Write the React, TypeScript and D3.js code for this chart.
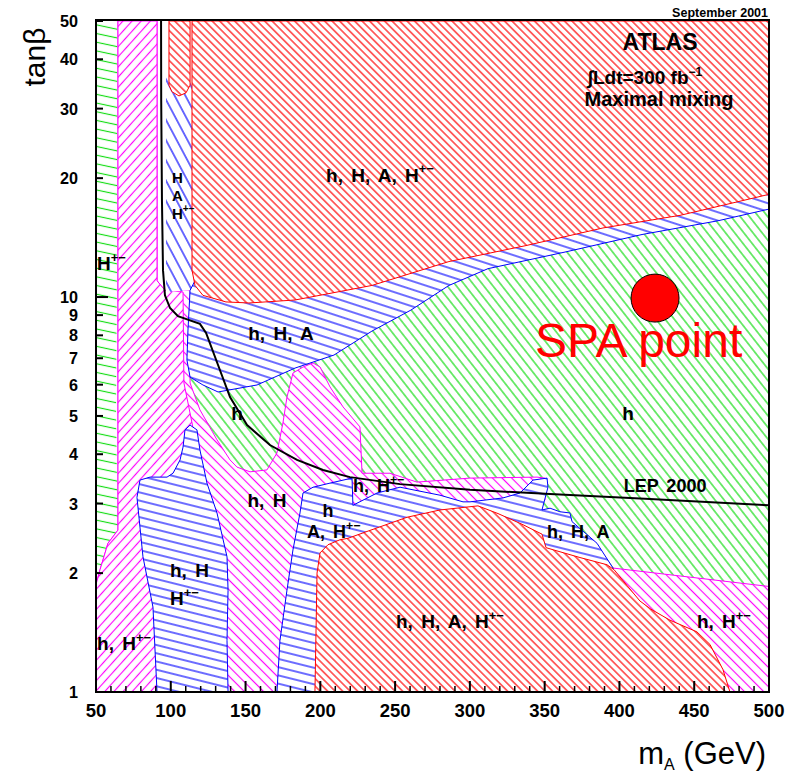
import React from 'react';
import * as d3 from 'd3';

// ---------- data (mA in GeV, tan beta) ----------
const X_TICK_LABELS = [50, 100, 150, 200, 250, 300, 350, 400, 450, 500];
const Y_TICK_LABELS = [1, 2, 3, 4, 5, 6, 7, 8, 9, 10, 20, 30, 40, 50];

// green left band (H+- only region at low mA)
const greenBand: [number, number][] = [
  [50, 50], [64.3, 50], [64, 11.7], [63.4, 5.2], [64, 3.44], [64.7, 3.06], [64.7, 2.57],
  [58, 2.38], [52.7, 2.04], [50.7, 1.87], [50, 1.87],
];
// green main region (h only)
const greenMain: [number, number][] = [
  [112.9, 11], [500, 20], [500, 1], [112.9, 1],
];
// magenta (h + H / h + H+-) central region
const magentaMain: [number, number][] = [
  [64.7, 50], [90.8, 50], [90.8, 11.0], [96.1, 10.4], [112.9, 10.4], [112.9, 6.06],
  [119.5, 5.18], [130.9, 4.35], [139.6, 3.87], [144.3, 3.71], [153.0, 3.61], [164.3, 3.65],
  [171.0, 4.03], [175.0, 4.80], [177.7, 5.58], [181.7, 6.42], [188.4, 6.65], [195.1, 6.81],
  [199.8, 6.65], [206.5, 5.92], [215.2, 5.27], [226.5, 4.69], [227.9, 3.58], [246.6, 3.58],
  [264.6, 3.40], [300.1, 3.48], [344.9, 3.50], [350.2, 3.48], [350.2, 3.06], [300.1, 2.73],
  [199.8, 2.16], [196.4, 1], [50, 1], [50, 1.87], [52.7, 2.04], [58.0, 2.38], [64.7, 2.57],
];
// magenta left band
const magentaLeft: [number, number][] = [
  [64.7, 50], [90.8, 50], [90.8, 11.0], [96.1, 10.4], [108.2, 10.3], [108.8, 6.06],
  [114.9, 4.66], [114.9, 1], [50, 1], [50, 1.87], [52.7, 2.04], [58.0, 2.38], [64.7, 2.57],
];
// magenta right region (h, H+-)
const magentaRight: [number, number][] = [
  [395.7, 2.06], [500, 1.85], [500, 1], [395.7, 1],
];
// blue narrow band (H, A, H+-)
const blueNarrow: [number, number][] = [
  [96.8, 36.5], [114.2, 36.5], [114.2, 10.4], [96.8, 10.3],
];
// blue band (h, H, A)
const blueBand: [number, number][] = [
  [112.9, 10.4], [116.2, 11.0], [186.4, 17.6], [500, 23.6], [500, 16.7], [465.9, 15.6],
  [415.1, 14.4], [363.6, 13.0], [312.1, 11.8], [286.0, 10.7], [260.6, 9.27], [234.5, 8.2],
  [209.1, 7.13], [183.1, 6.61], [157.7, 5.99], [131.6, 5.75], [121.5, 5.99], [112.9, 6.27],
  [110.8, 6.93], [111.5, 8.25],
];
// blue lower-left (h, H, H+-)
const blueLow: [number, number][] = [
  [90.8, 1], [88.1, 1.64], [81.4, 2.20], [77.4, 3.11], [79.4, 3.44], [86.1, 3.50], [97.5, 3.50],
  [101.5, 3.58], [106.2, 3.87], [108.2, 4.17], [109.5, 4.61], [112.9, 4.74], [117.5, 4.61],
  [119.5, 4.10], [124.2, 3.38], [130.9, 2.84], [137.6, 2.20], [138.3, 1.81], [137.6, 1.35],
  [138.3, 1],
];
// blue middle (h, A, H+- / h, H, A)
const blueMid: [number, number][] = [
  [171.0, 1], [173.0, 1.35], [177.7, 1.81], [181.7, 2.29], [186.4, 2.84], [188.4, 3.19],
  [195.1, 3.30], [206.5, 3.38], [221.2, 3.48], [221.8, 2.97], [237.9, 3.19], [253.3, 3.30],
  [280.0, 3.15], [295.4, 3.03], [300.1, 3.03], [322.1, 3.10], [333.5, 3.19], [342.2, 3.44],
  [351.6, 3.48], [352.2, 3.30], [348.2, 2.89], [353.6, 2.92], [360.2, 2.86], [366.9, 2.84],
  [368.3, 2.70], [385.0, 2.38], [395.7, 2.06], [395.7, 1.92], [320.1, 1],
];
// red top (h, H, A, H+-)
const redTop: [number, number][] = [
  [114.2, 50], [500, 50], [500, 18.2], [492.0, 17.9], [440.5, 16.1], [389.0, 14.96],
  [337.5, 13.5], [286.0, 12.3], [234.5, 10.7], [183.1, 9.83], [152.3, 9.66], [136.9, 9.72],
  [121.5, 10.1], [116.2, 10.7], [114.2, 11.7],
];
const redFinger: [number, number][] = [
  [98.8, 50], [112.9, 50], [112.9, 34.4], [110.2, 32.9], [105.5, 32.3], [100.8, 33.1], [98.8, 34.4],
];
// red bottom (h, H, A, H+-)
const redBottom: [number, number][] = [
  [196.4, 1], [197.8, 2.00], [199.8, 2.25], [205.1, 2.36], [213.2, 2.43], [218.5, 2.45],
  [232.5, 2.56], [258.0, 2.77], [280.0, 2.89], [305.4, 2.96], [318.8, 2.83], [334.8, 2.66],
  [348.2, 2.51], [350.9, 2.32], [357.6, 2.28], [373.6, 2.19], [391.7, 2.10], [396.4, 2.04],
  [405.1, 1.86], [413.7, 1.70], [421.1, 1.62], [433.8, 1.52], [451.8, 1.42], [460.5, 1.32],
  [469.2, 1.14], [473.9, 1],
];
// LEP 2000 exclusion curve
const lepCurve: [number, number][] = [
  [93.5, 50], [93.6, 31.5], [94.1, 17.6], [94.8, 11.7], [96.1, 10.1], [99.5, 9.38],
  [104.8, 8.95], [119.5, 8.55], [123.6, 8.11], [131.6, 6.73], [139.6, 5.58], [151.0, 4.74],
  [166.3, 4.22], [184.4, 3.87], [201.8, 3.65], [219.8, 3.50], [253.3, 3.36], [300.1, 3.25],
  [353.6, 3.17], [420.4, 3.08], [500, 2.97],
];
const spaPoint: [number, number] = [423.8, 9.94];

const regionLabels = [
  { text: 'h, H, A, H', sup: '+−', m: 239.9, t: 19.6, anchor: 'middle', size: 19 },
  { text: 'H', sup: '', m: 100.8, t: 19.4, anchor: 'start', size: 15 },
  { text: 'A', sup: '', m: 100.8, t: 17.5, anchor: 'start', size: 15 },
  { text: 'H', sup: '+−', m: 100.8, t: 15.8, anchor: 'start', size: 15 },
  { text: 'H', sup: '+−', m: 50.7, t: 11.7, anchor: 'start', size: 19 },
  { text: 'h, H, A', sup: '', m: 173.7, t: 7.79, anchor: 'middle', size: 19 },
  { text: 'h', sup: '', m: 144.3, t: 4.88, anchor: 'middle', size: 19 },
  { text: 'h', sup: '', m: 405.7, t: 4.88, anchor: 'middle', size: 19 },
  { text: 'LEP 2000', sup: '', m: 430.5, t: 3.21, anchor: 'middle', size: 18 },
  { text: 'h, H', sup: '', m: 164.3, t: 2.94, anchor: 'middle', size: 19 },
  { text: 'h, H', sup: '+−', m: 221.8, t: 3.21, anchor: 'start', size: 18 },
  { text: 'h', sup: '', m: 205.1, t: 2.77, anchor: 'middle', size: 18 },
  { text: 'A, H', sup: '+−', m: 191.1, t: 2.45, anchor: 'start', size: 18 },
  { text: 'h, H, A', sup: '', m: 351.6, t: 2.45, anchor: 'start', size: 18 },
  { text: 'h, H', sup: '', m: 99.5, t: 1.955, anchor: 'start', size: 19 },
  { text: 'H', sup: '+−', m: 99.5, t: 1.66, anchor: 'start', size: 19 },
  { text: 'h, H', sup: '+−', m: 50.7, t: 1.277, anchor: 'start', size: 19 },
  { text: 'h, H, A, H', sup: '+−', m: 250.6, t: 1.45, anchor: 'start', size: 19 },
  { text: 'h, H', sup: '+−', m: 451.8, t: 1.45, anchor: 'start', size: 19 },
];

const W = 795;
const H = 772;
const FONT = "'Liberation Sans', Arial, Helvetica, sans-serif";

const hatches = [
  { id: 'hRed', color: '#ff0000', angle: 45, gap: 5.3 },
  { id: 'hGreen', color: '#11dd11', angle: 52, gap: 7.2 },
  { id: 'hGreenBand', color: '#11dd11', angle: 12, gap: 8.5 },
  { id: 'hMag', color: '#ff00ff', angle: 45, gap: 6.8 },
  { id: 'hMagLeft', color: '#ff00ff', angle: -48, gap: 6.8 },
  { id: 'hBlueSteep', color: '#0000ff', angle: 62, gap: 9.5 },
  { id: 'hBlueBand', color: '#0000ff', angle: 18, gap: 8 },
  { id: 'hBlueLow', color: '#0000ff', angle: 14, gap: 8 },
];

export default function App() {
  const x = d3.scaleLinear().domain([50, 500]).range([96, 769]);
  const y = d3.scaleLog().domain([1, 50]).range([692, 21]);
  const line = d3.line<[number, number]>().x((d) => x(d[0])).y((d) => y(d[1]));
  const poly = (pts: [number, number][]) => line(pts) + 'Z';

  const left = x(50);
  const right = x(500);
  const top = 20;
  const bottom = y(1);

  const regions = [
    { pts: greenBand, fill: 'hGreenBand', stroke: 'none' },
    { pts: greenMain, fill: 'hGreen', stroke: 'none' },
    { pts: magentaMain, fill: 'hMag', stroke: '#ff00ff' },
    { pts: magentaLeft, fill: 'hMagLeft', stroke: '#ff00ff' },
    { pts: magentaRight, fill: 'hMag', stroke: '#ff00ff' },
    { pts: blueNarrow, fill: 'hBlueSteep', stroke: 'none' },
    { pts: blueBand, fill: 'hBlueBand', stroke: '#0000ff' },
    { pts: blueLow, fill: 'hBlueLow', stroke: '#0000ff' },
    { pts: blueMid, fill: 'hBlueLow', stroke: '#0000ff' },
    { pts: redTop, fill: 'hRed', stroke: '#ff0000' },
    { pts: redFinger, fill: 'hRed', stroke: '#ff0000' },
    { pts: redBottom, fill: 'hRed', stroke: '#ff0000' },
  ];

  const minorX = d3.range(60, 500, 10).filter((v) => v % 50 !== 0);

  return (
    <svg width={W} height={H} style={{ position: 'absolute', left: 0, top: 0, background: '#fff' }}>
      <defs>
        {hatches.map((h) => (
          <pattern key={h.id} id={h.id} patternUnits="userSpaceOnUse" width={20} height={h.gap}
            patternTransform={`rotate(${h.angle})`}>
            <rect width={20} height={h.gap} fill="#fff" />
            <line x1={0} y1={h.gap / 2} x2={20} y2={h.gap / 2} stroke={h.color} strokeWidth={1.15} />
          </pattern>
        ))}
        <clipPath id="plotClip">
          <rect x={left} y={top} width={right - left} height={bottom - top} />
        </clipPath>
      </defs>

      <g clipPath="url(#plotClip)">
        {regions.map((r, i) => (
          <path key={i} d={poly(r.pts)} fill={`url(#${r.fill})`} stroke={r.stroke} strokeWidth={1} />
        ))}
        <path d={line(lepCurve) || ''} fill="none" stroke="#000" strokeWidth={2} />
      </g>

      {/* region labels */}
      {regionLabels.map((l, i) => (
        <text key={i} x={x(l.m)} y={y(l.t)} textAnchor={l.anchor as any} fontFamily={FONT}
          fontWeight="bold" fontSize={l.size} wordSpacing={3} fill="#000">
          {l.text}
          {l.sup ? <tspan fontSize={l.size * 0.68} dy={-l.size * 0.45}>{l.sup}</tspan> : null}
        </text>
      ))}

      {/* SPA point */}
      <circle cx={x(spaPoint[0])} cy={y(spaPoint[1])} r={24} fill="#ff0000" stroke="#000" strokeWidth={1} />
      <text x={535} y={357} fontFamily={FONT} fontSize={48} fill="#ff0000">SPA point</text>

      {/* header texts */}
      <text x={660} y={50} textAnchor="middle" fontFamily={FONT} fontWeight="bold" fontSize={23}>ATLAS</text>
      <text x={645} y={84} textAnchor="middle" fontFamily={FONT} fontWeight="bold" fontSize={19}>
        ∫Ldt=300 fb<tspan fontSize={12} dy={-8}>−1</tspan>
      </text>
      <text x={659} y={106} textAnchor="middle" fontFamily={FONT} fontWeight="bold" fontSize={20}>Maximal mixing</text>
      <text x={768} y={17} textAnchor="end" fontFamily={FONT} fontWeight="bold" fontSize={12.5}>September 2001</text>

      {/* frame */}
      <rect x={left} y={top} width={right - left} height={bottom - top} fill="none" stroke="#000" strokeWidth={2} />

      {/* y ticks */}
      {Y_TICK_LABELS.map((v) => (
        <g key={v}>
          <line x1={left} x2={left + (v === 1 || v === 10 ? 12 : 7)} y1={y(v)} y2={y(v)} stroke="#000" strokeWidth={2} />
          <text x={78} y={y(v) + 6} textAnchor="end" fontFamily={FONT} fontWeight="bold" fontSize={16.2}>{v}</text>
        </g>
      ))}
      {/* x ticks */}
      {X_TICK_LABELS.map((v) => (
        <g key={v}>
          <line x1={x(v)} x2={x(v)} y1={bottom} y2={bottom - 11} stroke="#000" strokeWidth={2} />
          <text x={x(v)} y={717} textAnchor="middle" fontFamily={FONT} fontWeight="bold" fontSize={18.5}>{v}</text>
        </g>
      ))}
      {minorX.map((v) => (
        <line key={v} x1={x(v)} x2={x(v)} y1={bottom} y2={bottom - 6} stroke="#000" strokeWidth={1.5} />
      ))}

      {/* axis titles */}
      <text transform="translate(45,57) rotate(-90)" textAnchor="middle" fontFamily={FONT} fontSize={30}>tanβ</text>
      <text x={766} y={764} textAnchor="end" fontFamily={FONT} fontSize={31}>
        m<tspan fontSize={16} dy={6}>A</tspan><tspan dy={-6}> (GeV)</tspan>
      </text>
    </svg>
  );
}
